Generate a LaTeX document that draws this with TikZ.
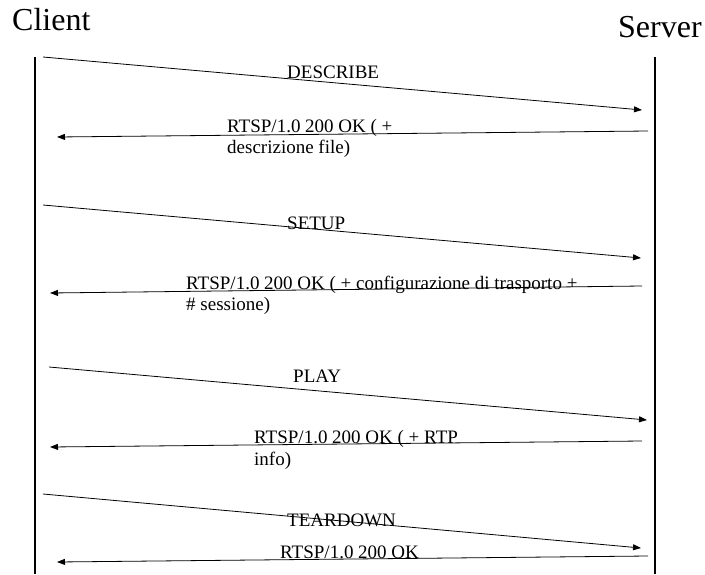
\documentclass[tikz,border=0pt]{standalone}
\usepackage{fontspec}
\setmainfont{Liberation Serif}
\usetikzlibrary{arrows.meta,positioning}

\tikzset{
    lifeline/.style={line width=1.6pt},
    msg/.style={line width=0.8pt,-{Triangle[length=8pt,width=6pt]}},
    actor/.style={font=\fontsize{32}{36}\selectfont,inner sep=0pt,anchor=base west},
    msglabel/.style={font=\fontsize{19}{21.5}\selectfont,inner sep=0pt,anchor=base west,align=left}
}

\begin{document}
\begin{tikzpicture}[x=1pt,y=-1pt]
        \useasboundingbox (0,0) rectangle (705,574);
        % actors
        \node[actor] (client) at (12,30) {Client};
        \node[actor] (server) at (618,37) {Server};
        % lifelines
        \coordinate (ctop) at (35,57);
        \coordinate (cbot) at (35,574);
        \coordinate (stop) at (655,57);
        \coordinate (sbot) at (655,574);
        \draw[lifeline] (ctop) -- (cbot);
        \draw[lifeline] (stop) -- (sbot);
        % message end points
        \coordinate (describeA) at (43,57);
        \coordinate (describeB) at (642,110);
        \coordinate (okdescA) at (648,131);
        \coordinate (okdescB) at (57,137);
        \coordinate (setupA) at (43,205);
        \coordinate (setupB) at (641,258);
        \coordinate (oksetupA) at (642,286);
        \coordinate (oksetupB) at (50,293);
        \coordinate (playA) at (49,367);
        \coordinate (playB) at (647,420);
        \coordinate (okplayA) at (642,441);
        \coordinate (okplayB) at (50,447);
        \coordinate (teardownA) at (43,494);
        \coordinate (teardownB) at (641,548);
        \coordinate (okteardownA) at (648,556);
        \coordinate (okteardownB) at (57,562);
        % messages
        \draw[msg] (describeA) -- (describeB);
        \draw[msg] (okdescA) -- (okdescB);
        \draw[msg] (setupA) -- (setupB);
        \draw[msg] (oksetupA) -- (oksetupB);
        \draw[msg] (playA) -- (playB);
        \draw[msg] (okplayA) -- (okplayB);
        \draw[msg] (teardownA) -- (teardownB);
        \draw[msg] (okteardownA) -- (okteardownB);
        % labels (base of a two-line label is its second line)
        \node[msglabel] (describe) at (287,78) {DESCRIBE};
        \node[msglabel] (okdesc) at (227,153.5) {RTSP/1.0 200 OK ( +\\descrizione file)};
        \node[msglabel] (setup) at (287,229) {SETUP};
        \node[msglabel] (oksetup) at (186,310.5) {RTSP/1.0 200 OK ( + configurazione di trasporto +\\\# sessione)};
        \node[msglabel] (play) at (293,382) {PLAY};
        \node[msglabel] (okplay) at (254,465) {RTSP/1.0 200 OK ( + RTP\\info)};
        \node[msglabel] (teardown) at (287,526) {TEARDOWN};
        \node[msglabel] (okteardown) at (280,558) {RTSP/1.0 200 OK};
\end{tikzpicture}
\end{document}
